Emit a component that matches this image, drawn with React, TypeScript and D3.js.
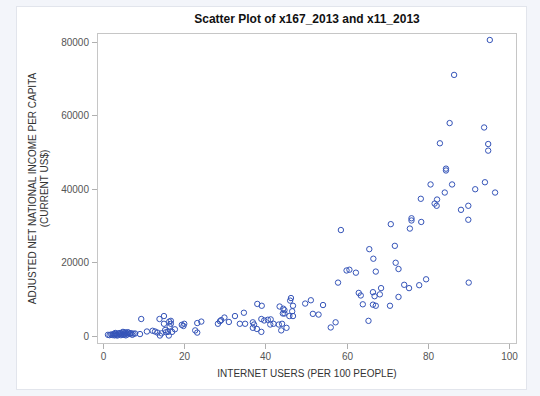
import { scaleLinear } from 'd3'

// internet users per 100 people (x) and adjusted net national income per capita (y)
const internetUsers = [
  1.2, 1.6, 2.0, 2.3, 2.6, 2.9, 3.1, 3.4, 3.7, 4.0, 4.2, 4.5, 4.8, 5.0, 5.3, 5.5,
  5.8, 6.0, 6.3, 6.6, 6.9, 7.2, 7.5, 7.9, 2.8, 3.5, 4.4, 5.2, 6.1, 4.9, 5.6, 3.0,
  9.4, 9.1, 10.8, 12.2, 12.8, 13.4, 14.0, 14.4, 15.3, 15.5, 16.0, 17.0, 16.2, 17.7,
  13.9, 15.0, 15.0, 16.3, 16.7, 16.7, 16.4, 19.4, 20.0, 19.8, 22.7, 23.2, 23.2, 24.2,
  28.3, 28.8, 29.1, 29.9, 31.0, 32.5, 34.7, 33.7, 35.0, 36.9, 37.2, 36.9, 37.9, 39.0,
  39.0, 39.7, 40.6, 41.3, 41.2, 42.0, 38.0, 39.1, 43.5, 44.4, 44.7, 44.3, 44.7, 45.2,
  43.9, 43.3, 44.1, 46.3, 46.1, 46.8, 46.6, 45.9, 46.8, 49.8, 51.2, 51.7, 53.1, 54.2,
  56.1, 57.3, 57.9, 58.6, 60.0, 60.7, 62.3, 63.0, 63.5, 64.0, 65.4, 65.6, 66.6, 67.2,
  66.5, 66.9, 68.5, 68.2, 66.5, 67.2, 70.7, 70.9, 71.9, 72.1, 72.8, 72.8, 74.2, 75.4,
  75.6, 76.0, 76.0, 77.9, 78.3, 78.4, 79.6, 80.7, 81.7, 82.2, 82.3, 83.0, 84.2, 84.5,
  84.5, 85.4, 86.0, 86.5, 88.2, 90.0, 90.0, 90.1, 91.7, 93.9, 94.1, 94.9, 94.9, 95.3,
  96.6,
]

const incomePerCapita = [
  300, 200, 400, 250, 500, 350, 600, 300, 700, 450, 800, 500, 350, 900, 600, 1000,
  700, 400, 850, 550, 750, 300, 600, 650, 150, 100, 200, 300, 1000, 1100, 150, 800,
  4600, 500, 1200, 1400, 1200, 900, 100, 700, 1600, 1000, 1100, 1100, 100, 1800,
  4600, 5400, 3300, 3900, 4100, 3300, 2600, 3000, 3300, 2700, 1500, 900, 3500, 3900,
  3300, 4000, 4300, 5000, 3800, 5400, 6300, 3300, 3300, 3700, 3100, 2200, 1900, 1100,
  4600, 4200, 4400, 4500, 3100, 3300, 8700, 8200, 8000, 7400, 7000, 6100, 6100, 2200,
  1500, 3100, 3300, 10300, 9600, 8200, 6700, 5400, 5400, 8800, 9700, 6000, 5800, 8400,
  2300, 3700, 14500, 28800, 17800, 18000, 17200, 11700, 11000, 8600, 4100, 23600, 21000, 17500,
  11900, 10800, 13000, 11300, 8500, 8200, 8200, 30400, 24500, 19900, 18200, 10600, 13900, 13000,
  29200, 32000, 31400, 13800, 37300, 31000, 15400, 41200, 36000, 35400, 37100, 52400, 39000, 45500,
  45000, 57900, 41200, 71000, 34300, 35400, 31600, 14500, 39900, 56700, 41800, 52200, 50400, 80500,
  39000,
]

const xTicks = [0, 20, 40, 60, 80, 100]
const yTicks = [0, 20000, 40000, 60000, 80000]

const title = 'Scatter Plot of x167_2013 and x11_2013'
const xLabel = 'INTERNET USERS (PER 100 PEOPLE)'
const yLabel1 = 'ADJUSTED NET NATIONAL INCOME PER CAPITA'
const yLabel2 = '(CURRENT US$)'

export default function App() {
  const width = 540
  const height = 396
  const plot = { left: 97, right: 517, top: 33, bottom: 344 }
  const font = '"Liberation Sans", Arial, sans-serif'

  const xScale = scaleLinear().domain([-1.5, 102]).range([plot.left, plot.right])
  const yScale = scaleLinear().domain([-2200, 82400]).range([plot.bottom, plot.top])

  return (
    <svg
      width={width}
      height={height}
      style={{ position: 'absolute', left: 0, top: 0 }}
      fontFamily={font}
    >
      <rect width={width} height={height} fill='#f3f5fa' />
      {/* white panel */}
      <rect x={16.5} y={6.5} width={510} height={383} fill='#fff' stroke='#e2e5ec' />

      <text
        x={(plot.left + plot.right) / 2}
        y={23}
        textAnchor='middle'
        fontSize={12}
        fontWeight='bold'
        fill='#111'
      >
        {title}
      </text>

      {/* frame */}
      <rect
        x={plot.left + 0.5}
        y={plot.top + 0.5}
        width={plot.right - plot.left - 1}
        height={plot.bottom - plot.top - 1}
        fill='none'
        stroke='#c6c6c6'
      />

      {/* X axis */}
      {xTicks.map((t) => (
        <g key={t} transform={`translate(${Math.round(xScale(t)) + 0.5}, ${plot.bottom})`}>
          <line y2={5} stroke='#b0b0b0' />
          <text y={16} textAnchor='middle' fontSize={10} fill='#555'>
            {t}
          </text>
        </g>
      ))}
      <text
        x={(plot.left + plot.right) / 2}
        y={377}
        textAnchor='middle'
        fontSize={10}
        fill='#333'
      >
        {xLabel}
      </text>

      {/* Y axis */}
      {yTicks.map((t) => (
        <g key={t} transform={`translate(${plot.left}, ${Math.round(yScale(t)) + 0.5})`}>
          <line x2={-5} stroke='#b0b0b0' />
          <text x={-8} dy='0.35em' textAnchor='end' fontSize={10} fill='#555'>
            {t}
          </text>
        </g>
      ))}
      <g transform={`translate(36, ${(plot.top + plot.bottom) / 2}) rotate(-90)`}>
        <text textAnchor='middle' fontSize={10} fill='#333'>
          {yLabel1}
        </text>
        <text y={12} textAnchor='middle' fontSize={10} fill='#333'>
          {yLabel2}
        </text>
      </g>

      {/* points */}
      {internetUsers.map((x, i) => (
        <circle
          key={i}
          cx={xScale(x)}
          cy={yScale(incomePerCapita[i])}
          r={2.7}
          fill='none'
          stroke='#3554b8'
          strokeWidth={1}
        />
      ))}
    </svg>
  )
}
